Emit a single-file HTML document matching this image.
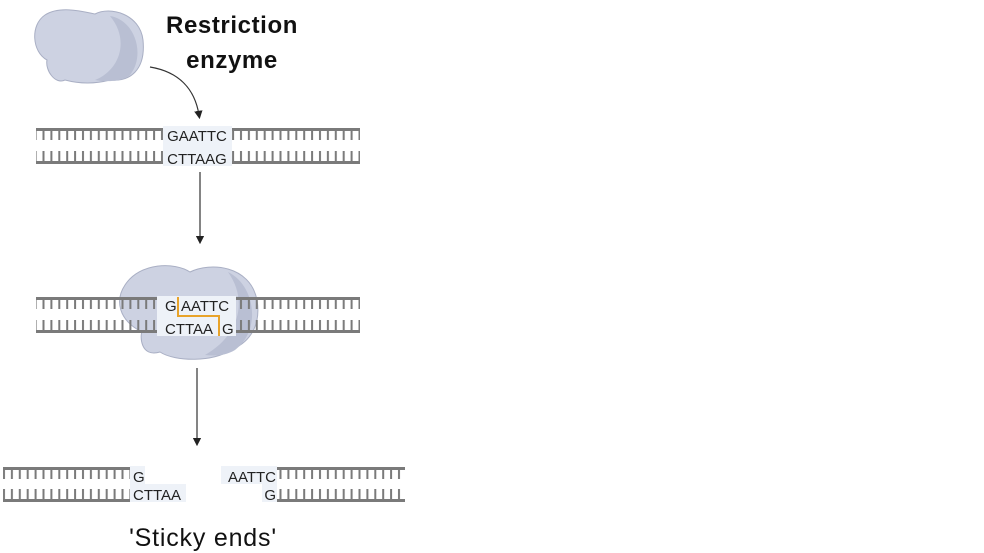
<!DOCTYPE html>
<html><head><meta charset="utf-8"><style>
html,body{margin:0;padding:0;background:#fff;}
svg{display:block;}
text{font-family:"Liberation Sans",sans-serif;}
</style></head><body>
<svg width="984" height="553" viewBox="0 0 984 553" xmlns="http://www.w3.org/2000/svg">
<defs>
<pattern id="tt" x="0" y="0" width="7.9" height="12" patternUnits="userSpaceOnUse">
<rect x="3" y="0" width="2" height="12" fill="#7a7a7a"/></pattern>
<marker id="ar" viewBox="0 0 10 10" refX="5" refY="5" markerWidth="7" markerHeight="7" orient="auto"><path d="M0,0 L10,5 L0,10 z" fill="#222"/></marker>
</defs>
<!-- enzyme 1 -->
<path d="M45,15 C60,5 85,12 95,14 C110,6 140,14 143,40 C146,70 130,82 110,80 C95,84 80,84 65,80 C55,85 45,70 47,60 C32,52 30,25 45,15 Z" fill="#cdd2e2" stroke="#a9afc4" stroke-width="1"/>
<path d="M110,16 C135,20 146,55 130,75 C122,82 105,82 95,80 C120,70 130,40 110,16Z" fill="#b9bfd3"/>
<text x="232" y="33" font-size="24" font-weight="bold" letter-spacing="0.6" text-anchor="middle" fill="#111">Restriction</text>
<text x="232" y="68" font-size="24" font-weight="bold" letter-spacing="0.6" text-anchor="middle" fill="#111">enzyme</text>
<path d="M150,67 C180,72 195,90 199,115" fill="none" stroke="#333" stroke-width="1.2" marker-end="url(#ar)"/>
<!-- row 1 -->
<rect x="163" y="126" width="69" height="40" fill="#eef2f8"/>
<g>
<rect x="36" y="128" width="127" height="3" fill="#7a7a7a"/><rect x="36" y="130" width="127" height="10" fill="url(#tt)"/>
<rect x="36" y="161" width="127" height="3" fill="#7a7a7a"/><rect x="36" y="151" width="127" height="10" fill="url(#tt)"/>
<rect x="232" y="128" width="128" height="3" fill="#7a7a7a"/><rect x="232" y="130" width="128" height="10" fill="url(#tt)"/>
<rect x="232" y="161" width="128" height="3" fill="#7a7a7a"/><rect x="232" y="151" width="128" height="10" fill="url(#tt)"/>
</g>
<text x="197" y="141" font-size="15" text-anchor="middle" fill="#222">GAATTC</text>
<text x="197" y="164" font-size="15" text-anchor="middle" fill="#222">CTTAAG</text>
<line x1="200" y1="172" x2="200" y2="240" stroke="#333" stroke-width="1.2" marker-end="url(#ar)"/>
<!-- enzyme 2 -->
<path d="M125,285 C140,262 175,262 190,272 C210,262 250,265 257,300 C262,330 245,345 230,350 C215,362 175,362 160,352 C140,358 140,335 142,332 C118,320 115,300 125,285 Z" fill="#cdd2e2" stroke="#a9afc4" stroke-width="1"/>
<path d="M228,272 C255,285 262,330 235,350 C225,356 215,356 205,355 C240,335 248,300 228,272Z" fill="#b9bfd3"/>
<rect x="157" y="296" width="79" height="40" fill="#eef2f8"/>
<rect x="36" y="297" width="121" height="3" fill="#7a7a7a"/><rect x="36" y="299" width="121" height="10" fill="url(#tt)"/>
<rect x="36" y="330" width="121" height="3" fill="#7a7a7a"/><rect x="36" y="320" width="121" height="10" fill="url(#tt)"/>
<rect x="236" y="297" width="124" height="3" fill="#7a7a7a"/><rect x="236" y="299" width="124" height="10" fill="url(#tt)"/>
<rect x="236" y="330" width="124" height="3" fill="#7a7a7a"/><rect x="236" y="320" width="124" height="10" fill="url(#tt)"/>
<path d="M178,297 V316 H219 V336" fill="none" stroke="#e8a32a" stroke-width="2"/>
<text x="165" y="311" font-size="15" fill="#222">G</text>
<text x="181" y="311" font-size="15" fill="#222">AATTC</text>
<text x="165" y="334" font-size="15" fill="#222">CTTAA</text>
<text x="222" y="334" font-size="15" fill="#222">G</text>
<line x1="197" y1="368" x2="197" y2="442" stroke="#333" stroke-width="1.2" marker-end="url(#ar)"/>
<!-- row 3 -->
<rect x="130" y="466" width="15" height="18" fill="#eef2f8"/>
<rect x="130" y="484" width="56" height="18" fill="#eef2f8"/>
<rect x="221" y="466" width="56" height="18" fill="#eef2f8"/>
<rect x="262" y="484" width="15" height="18" fill="#eef2f8"/>
<rect x="3" y="467" width="127" height="3" fill="#7a7a7a"/><rect x="3" y="469" width="127" height="10" fill="url(#tt)"/>
<rect x="3" y="499" width="127" height="3" fill="#7a7a7a"/><rect x="3" y="489" width="127" height="10" fill="url(#tt)"/>
<rect x="277" y="467" width="128" height="3" fill="#7a7a7a"/><rect x="277" y="469" width="128" height="10" fill="url(#tt)"/>
<rect x="277" y="499" width="128" height="3" fill="#7a7a7a"/><rect x="277" y="489" width="128" height="10" fill="url(#tt)"/>
<text x="133" y="482" font-size="15" fill="#222">G</text>
<text x="133" y="500" font-size="15" fill="#222">CTTAA</text>
<text x="276" y="482" font-size="15" text-anchor="end" fill="#222">AATTC</text>
<text x="276" y="500" font-size="15" text-anchor="end" fill="#222">G</text>
<text x="203" y="546" font-size="25" letter-spacing="0.8" text-anchor="middle" fill="#111">'Sticky ends'</text>
</svg>
</body></html>
